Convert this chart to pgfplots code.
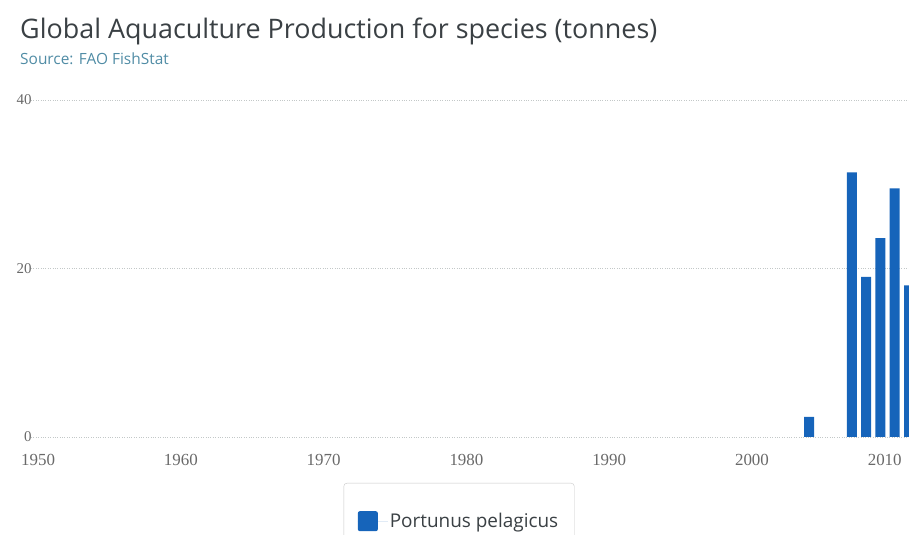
\documentclass[border=0pt]{standalone}
\usepackage{pgfplots}
\pgfplotsset{compat=1.18}
\usepackage{fontspec}
\setmainfont{Open Sans}
\newfontfamily\tickfont{Liberation Serif}
\definecolor{barblue}{RGB}{22,100,186}
\definecolor{titlegray}{RGB}{58,64,68}
\definecolor{subcol}{RGB}{80,140,165}
\definecolor{gridgray}{RGB}{195,200,200}
\definecolor{tickgray}{RGB}{105,105,105}
\definecolor{legborder}{RGB}{200,200,200}
\begin{document}
\begin{tikzpicture}[x=1bp,y=1bp]
\begin{axis}[
  at={(31bp,98bp)}, anchor=south west,
  scale only axis, width=878bp, height=337bp,
  xmin=1949.5, xmax=2011, ymin=0, ymax=40,
  axis line style={draw=none},
  major tick length=0pt,
  ytick={0,20,40}, xtick={1950,1960,...,2000},
  extra x ticks={2010},
  extra x tick style={xticklabel style={xshift=-10bp}},
  ymajorgrids, grid style={gridgray, dotted, line width=0.9bp},
  /pgf/number format/assume math mode=true,
  /pgf/number format/1000 sep={},
  yticklabel style={font=\tickfont\fontsize{15}{15}\selectfont, text=tickgray, anchor=east, xshift=4bp},
  xticklabel style={font=\tickfont\fontsize{17}{17}\selectfont, text=tickgray, yshift=-14bp},
  ybar, bar width=10bp,
  legend style={at={(0.4875,-0.1365)}, anchor=north, draw=legborder, rounded corners=3bp,
    inner xsep=14bp, inner ysep=28bp, font=\fontsize{19}{19}\selectfont, text=titlegray,
    /tikz/every even column/.append style={column sep=0bp}},
  legend image code/.code={\fill[#1,draw=none,rounded corners=2bp] (0bp,-10bp) rectangle (20bp,10bp); \path (0bp,0bp) -- (30bp,0bp);},
]
\addplot[fill=barblue, draw=none] coordinates {(2004,2.4) (2007,31.4) (2008,19.0) (2009,23.6) (2010,29.5) (2011,18.0)};
\legend{Portunus pelagicus}
\end{axis}
\node[anchor=base west, inner sep=0, text=titlegray, font=\fontsize{27}{27}\selectfont] at (20,496) {Global Aquaculture Production for species (tonnes)};
\node[anchor=base west, inner sep=0, text=subcol, font=\fontsize{15.5}{15.5}\selectfont] at (20,470) {Source: FAO FishStat};
\pgfresetboundingbox
\useasboundingbox (0,0) rectangle (909,535);
\end{tikzpicture}
\end{document}
